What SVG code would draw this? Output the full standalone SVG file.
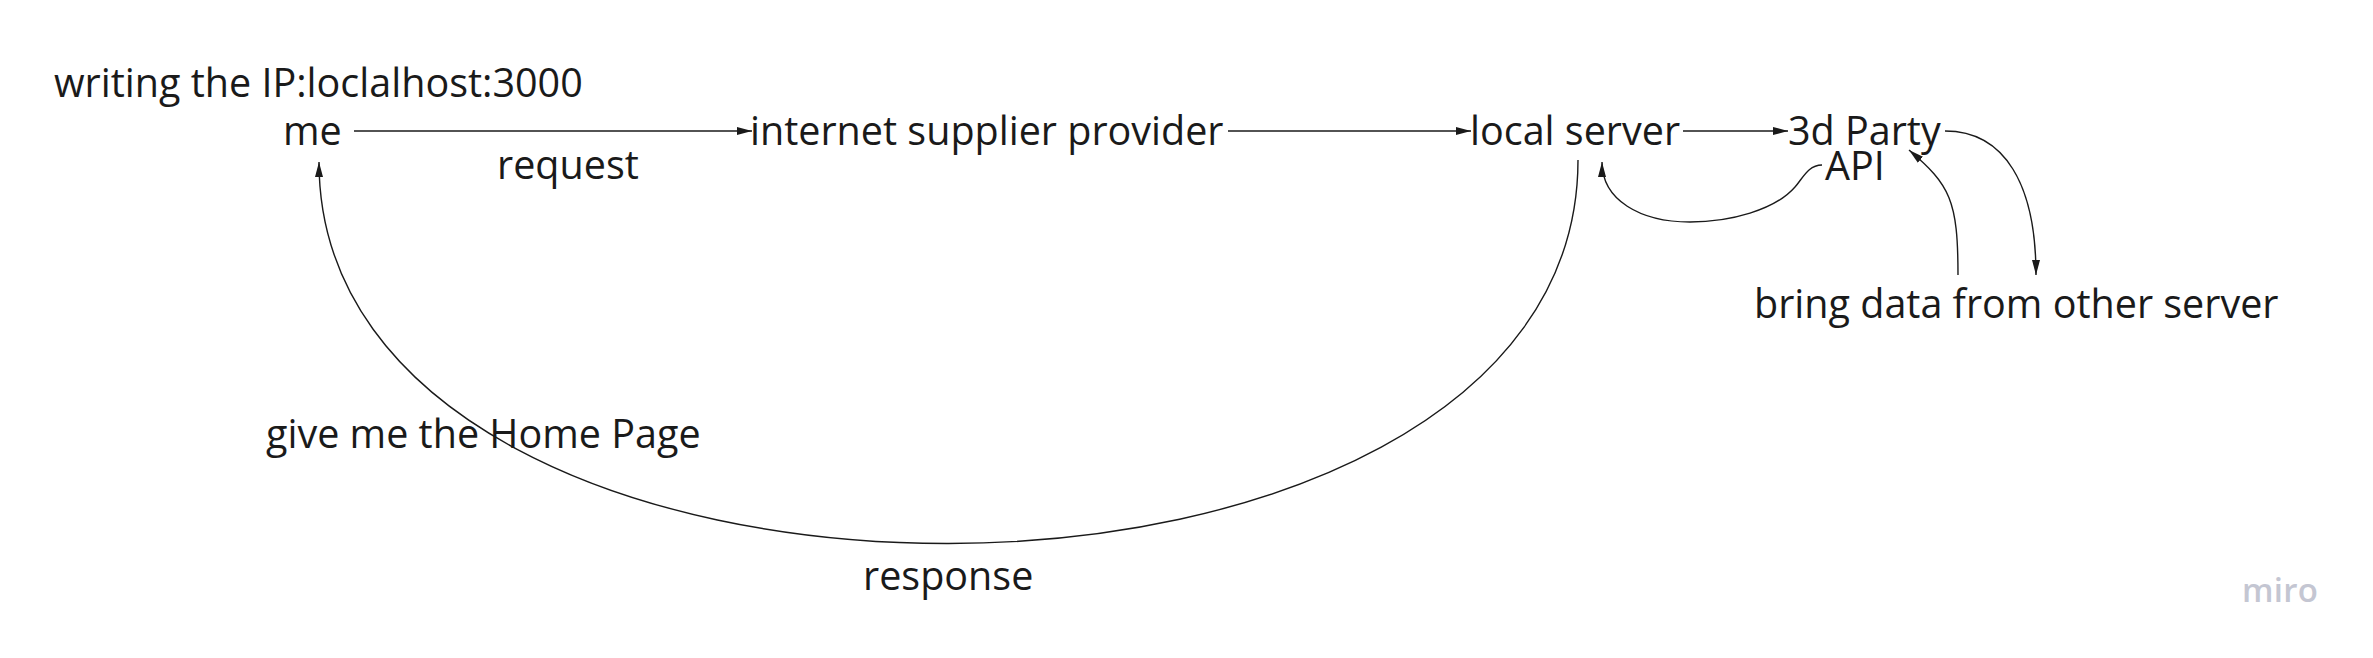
<svg xmlns="http://www.w3.org/2000/svg" width="2373" height="658" viewBox="0 0 2373 658">
  <style>
    .lbl { font-family: "Open Sans", "Noto Sans", "Liberation Sans", sans-serif; font-size: 39.5px; fill: #1a1a1a; }
    .edge { fill: none; stroke: #1a1a1a; stroke-width: 1.4; }
    .logo { font-family: "Open Sans", "Noto Sans", sans-serif; font-size: 33px; font-weight: 600; fill: #c4c6d2; }
  </style>
  <defs>
    <marker id="arrow" markerUnits="userSpaceOnUse" markerWidth="16" markerHeight="10" refX="15" refY="4" orient="auto">
      <path d="M0,0 L15,4 L0,8 z" fill="#1a1a1a"/>
    </marker>
  </defs>
  <rect width="2373" height="658" fill="#ffffff"/>

  <g id="connectors">
    <path class="edge" d="M354,131 H752" marker-end="url(#arrow)"/>
    <path class="edge" d="M1228,131 H1471" marker-end="url(#arrow)"/>
    <path class="edge" d="M1683,131 H1788" marker-end="url(#arrow)"/>
    <path class="edge" d="M1578,160 C1578,670 319,672 319,162" marker-end="url(#arrow)"/>
    <path class="edge" d="M1822,165 C1808,165 1803,178 1795,187 C1775,210 1730,222 1690,222 C1640,222 1602,200 1602,162" marker-end="url(#arrow)"/>
    <path class="edge" d="M1945,131 C2005,131 2036,185 2036,275" marker-end="url(#arrow)"/>
    <path class="edge" d="M1958,275 C1958,200 1950,185 1909,150" marker-end="url(#arrow)"/>
  </g>

  <g id="note-writing"><text class="lbl" x="54" y="97">writing the IP:loclalhost:3000</text></g>
  <g id="node-me"><text class="lbl" x="283" y="145">me</text></g>
  <g id="label-request"><text class="lbl" x="497" y="179">request</text></g>
  <g id="node-isp"><text class="lbl" x="750" y="145">internet supplier provider</text></g>
  <g id="node-local-server"><text class="lbl" x="1470" y="145">local server</text></g>
  <g id="node-3d-party"><text class="lbl" x="1788" y="145">3d Party</text></g>
  <g id="node-api"><text class="lbl" x="1825" y="180">API</text></g>
  <g id="node-bring-data"><text class="lbl" x="1754" y="318">bring data from other server</text></g>
  <g id="label-home-page"><text class="lbl" x="266" y="448">give me the Home Page</text></g>
  <g id="label-response"><text class="lbl" x="863" y="590">response</text></g>
  <g id="logo"><text class="logo" x="2242" y="602" textLength="76" lengthAdjust="spacing">miro</text></g>
</svg>
